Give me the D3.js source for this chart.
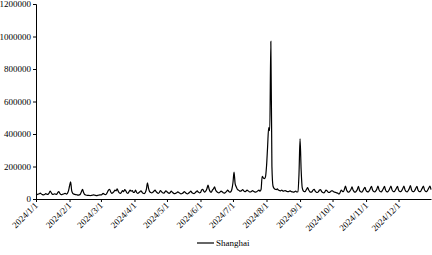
<!DOCTYPE html>
<html>
<head>
<meta charset="utf-8">
<script src="https://cdn.jsdelivr.net/npm/d3@7"></script>
<style>
  body { margin: 0; background: #fff; }
  svg text { font-family: "Liberation Serif", "Times New Roman", serif; fill: #000; }
</style>
</head>
<body>
<div id="chart"></div>
<script>
// daily values for 2024, in thousands
const startDate = "2024-01-01";
const seriesName = "Shanghai";
const unit = 1000;

const jan = [28,27,30,32,36,30,27,26,28,33,30,28,35,48,40,30,28,32,30,28,38,45,35,28,27,30,32,35,30,35,50];
const feb = [80,105,50,35,30,28,27,25,24,25,30,45,60,40,28,25,23,22,22,21,22,23,25,24,22,21,22,24,25];
const mar = [25,28,35,30,27,30,42,55,60,45,35,38,45,55,50,62,48,38,35,42,52,45,58,50,38,35,45,55,48,52,40];
const apr = [42,55,40,35,38,45,50,42,35,33,40,60,100,65,45,40,38,42,48,55,45,38,35,40,52,45,38,36,42,50];
const may = [45,38,35,40,48,42,36,33,35,38,44,40,35,32,34,38,45,40,34,32,36,42,48,40,35,33,38,45,50,42,38];
const jun = [40,55,60,48,42,50,65,85,60,45,42,55,62,75,55,45,40,38,42,48,45,38,36,40,45,55,48,42,45,60];
const jul = [100,165,95,75,60,55,50,48,52,58,50,45,48,55,50,45,43,46,52,48,44,42,45,50,55,48,60,140,130,125,135];
const aug = [200,320,440,420,970,200,80,65,60,58,62,55,52,50,55,50,48,52,50,46,45,48,50,45,44,42,45,48,43,45,150];
const sep = [370,180,70,50,45,48,60,70,55,45,42,45,55,60,48,42,40,45,55,58,45,40,38,45,55,50,42,40,45,50];
const oct = [50,45,42,40,38,35,30,40,55,48,45,60,80,55,45,42,48,58,75,55,45,42,48,60,78,52,44,42,50,62,72];
const nov = [52,45,44,52,65,78,55,46,44,50,62,80,56,46,44,52,64,78,55,45,44,52,66,80,56,46,45,54,66,78];
const dec = [55,46,45,52,65,80,56,46,44,52,66,82,57,46,45,53,66,78,55,46,45,54,67,80,56,47,46,55,68,80,58];

const yTicks = [0, 200000, 400000, 600000, 800000, 1000000, 1200000];

const values = [].concat(jan, feb, mar, apr, may, jun, jul, aug, sep, oct, nov, dec);
const t0 = d3.timeParse("%Y-%m-%d")(startDate);
const data = values.map((v, i) => ({ date: d3.timeDay.offset(t0, i), value: v * unit }));

const width = 432, height = 255;
const svg = d3.select("#chart").append("svg")
    .attr("width", width)
    .attr("height", height);

const x = d3.scaleTime()
    .domain([t0, data[data.length - 1].date])
    .range([36, 431]);
const y = d3.scaleLinear()
    .domain([0, 1200000])
    .range([199, 4]);

// y axis
const yAxis = svg.append("g")
    .attr("transform", "translate(36,0)")
    .call(d3.axisLeft(y).tickValues(yTicks).tickFormat(d3.format("d")).tickSize(3).tickPadding(2));
yAxis.select(".domain").attr("stroke", "#000");
yAxis.selectAll("text").attr("font-size", 9);

// x axis
const xAxis = svg.append("g")
    .attr("transform", "translate(0,199)")
    .call(d3.axisBottom(x)
        .ticks(d3.timeMonth.every(1))
        .tickFormat(d3.timeFormat("%Y/%-m/%-d"))
        .tickSize(3)
        .tickSizeOuter(0));
xAxis.select(".domain").attr("stroke", "#000");
xAxis.selectAll("text")
    .attr("font-size", 9)
    .attr("text-anchor", "end")
    .attr("dy", null)
    .attr("y", 0)
    .attr("transform", "translate(2,7) rotate(-45)");

// the line
const line = d3.line()
    .x(d => x(d.date))
    .y(d => y(d.value))
    .curve(d3.curveMonotoneX);

svg.append("path")
    .datum(data)
    .attr("fill", "none")
    .attr("stroke", "#000")
    .attr("stroke-width", 1.2)
    .attr("d", line);

// legend
const legend = svg.append("g").attr("transform", "translate(197,243)");
legend.append("line")
    .attr("x1", 0).attr("x2", 17)
    .attr("stroke", "#000").attr("stroke-width", 1.2);
legend.append("text")
    .attr("x", 19).attr("dy", "0.32em")
    .attr("font-size", 9)
    .text(seriesName);
</script>
</body>
</html>
